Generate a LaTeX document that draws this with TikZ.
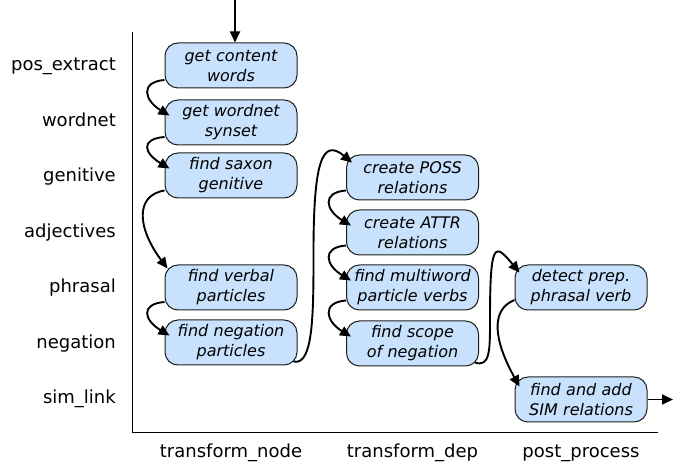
\documentclass[tikz,border=0pt]{standalone}
\usepackage{fontspec}
\setmainfont{DejaVu Sans}
\usetikzlibrary{arrows.meta,calc}
\definecolor{boxfill}{RGB}{200,225,252}
\definecolor{boxline}{RGB}{30,30,30}
\begin{document}
\begin{tikzpicture}[x=1pt,y=-1pt,
  stepbox/.style={draw=boxline, line width=1pt, fill=boxfill, rounded corners=13pt,
    minimum width=132pt, minimum height=45pt, text width=128pt, align=center,
    inner sep=0pt, font=\fontsize{16}{20}\selectfont\itshape},
  rowlab/.style={anchor=base east, font=\fontsize{18}{22}\selectfont, inner sep=0pt},
  collab/.style={anchor=base, font=\fontsize{18}{22}\selectfont, inner sep=0pt},
  flow/.style={line width=1.9pt, -{Triangle[length=11pt,width=10pt]}},
  axisline/.style={line width=1pt}]
\useasboundingbox (0,0) rectangle (673,470);

% row labels
\node[rowlab] (l1) at (116,71) {pos\_extract};
\node[rowlab] (l2) at (116,126.5) {wordnet};
\node[rowlab] (l3) at (116,182) {genitive};
\node[rowlab] (l4) at (116,237.5) {adjectives};
\node[rowlab] (l5) at (116,293) {phrasal};
\node[rowlab] (l6) at (116,348.5) {negation};
\node[rowlab] (l7) at (116,404) {sim\_link};

% axes
\coordinate (axtop) at (132.5,32);
\coordinate (axo) at (132.5,433);
\coordinate (axend) at (658,433);
\draw[axisline] (axtop) -- (axo) -- (axend);

% column labels
\node[collab] (c1) at (231,458) {transform\_node};
\node[collab] (c2) at (412.5,458) {transform\_dep};
\node[collab] (c3) at (581,458) {post\_process};

% boxes
\node[stepbox] (n1) at (231,65.5) {get content\\words};
\node[stepbox] (n2) at (231,122.5) {get wordnet\\synset};
\node[stepbox] (n3) at (231,175.5) {find saxon\\genitive};
\node[stepbox] (n4) at (231,287.5) {find verbal\\particles};
\node[stepbox] (n5) at (231,342.5) {find negation\\particles};
\node[stepbox] (m1) at (412.5,177.5) {create POSS\\relations};
\node[stepbox] (m2) at (412.5,232.5) {create ATTR\\relations};
\node[stepbox] (m3) at (412.5,287.5) {find multiword\\particle verbs};
\node[stepbox] (m4) at (412.5,343.5) {find scope\\of negation};
\node[stepbox] (p1) at (581,287.5) {detect prep.\\phrasal verb};
\node[stepbox] (p2) at (581,399.5) {find and add\\SIM relations};

% connectors
\coordinate (inp) at (235,0);
\draw[flow] (inp) -- (inp |- n1.north);

\draw[flow] ($(n1.west)+(0,14.5)$) .. controls +(-25,2) and +(-25,-15) .. ($(n2.west)+(5,-7)$);
\draw[flow] ($(n2.west)+(0,14.5)$) .. controls +(-25,2) and +(-25,-15) .. ($(n3.west)+(5,-7)$);
\draw[flow] ($(n3.west)+(0,15)$) .. controls +(-30,5) and +(-30,-40) .. ($(n4.west)+(3,-19)$);
\draw[flow] ($(n4.west)+(0,14.5)$) .. controls +(-25,2) and +(-25,-15) .. ($(n5.west)+(5,-7)$);

\draw[flow] ($(n5.south east)+(-4,-4)$) .. controls +(20,5) and +(0,60) .. ($(n5.east)+(16,-90)$)
  .. controls +(0,-90) and +(-30,-25) .. ($(m1.north west)+(6,8)$);

\draw[flow] ($(m1.west)+(0,13)$) .. controls +(-25,2) and +(-25,-15) .. ($(m2.west)+(5,-7)$);
\draw[flow] ($(m2.west)+(0,13)$) .. controls +(-25,2) and +(-25,-15) .. ($(m3.west)+(5,-7)$);
\draw[flow] ($(m3.west)+(0,13)$) .. controls +(-25,2) and +(-25,-15) .. ($(m4.west)+(5,-7)$);

\draw[flow] ($(m4.south east)+(-4,-4)$) .. controls +(15,5) and +(0,30) .. ($(m4.east)+(11,-23)$)
  .. controls +(0,-80) and +(-25,-30) .. ($(p1.north west)+(5,8)$);

\draw[flow] ($(p1.west)+(0,12.5)$) .. controls +(-25,10) and +(-25,-45) .. ($(p2.north west)+(5,10)$);

\coordinate (outp) at (673,399.5);
\draw[flow] (p2.east) -- (outp);
\end{tikzpicture}
\end{document}
